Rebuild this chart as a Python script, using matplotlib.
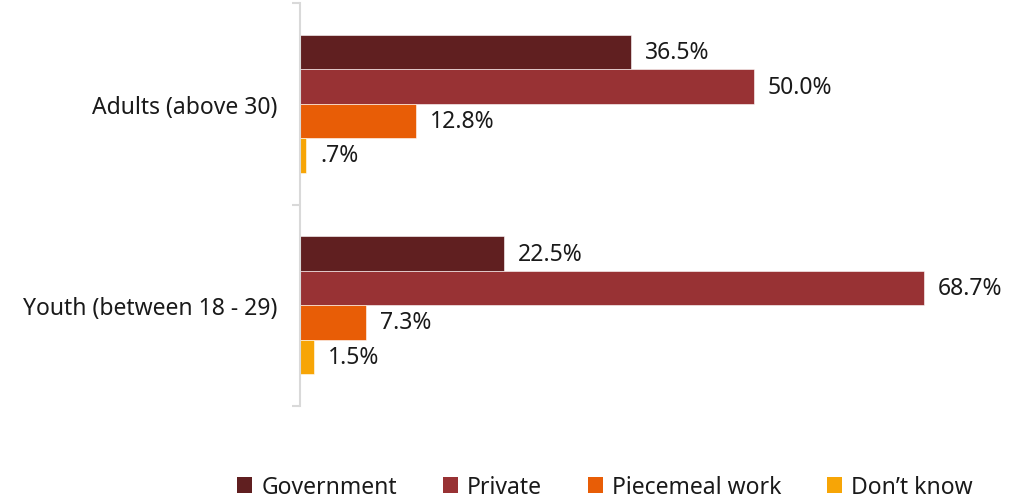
import matplotlib
matplotlib.use("Agg")
import matplotlib.pyplot as plt
import numpy as np
from matplotlib.patches import Patch

plt.rcParams['font.family'] = ['Noto Sans', 'DejaVu Sans']
plt.rcParams['font.weight'] = 'normal'

categories = ["Adults (above 30)", "Youth (between 18 - 29)"]
series = ["Government", "Private", "Piecemeal work", "Don\u2019t know"]
government = [36.5, 22.5]
private = [50.0, 68.7]
piecemeal = [12.8, 7.3]
dont_know = [0.7, 1.5]
value_labels = [["36.5%", "22.5%"], ["50.0%", "68.7%"], ["12.8%", "7.3%"], [".7%", "1.5%"]]
colors = ["#601F20", "#983234", "#E85D06", "#F7A506"]

values = [government, private, piecemeal, dont_know]
FS = 16.5
TXT = '#1a1a1a'

W, H = 1010, 502
fig = plt.figure(figsize=(W / 100, H / 100), dpi=100)
x_max = 78.0
px_per_unit = 9.08
ax_left, ax_top, ax_bottom = 300, 4, 407
ax = fig.add_axes([ax_left / W, 1 - ax_bottom / H,
                   x_max * px_per_unit / W, (ax_bottom - ax_top) / H])

bar_h = 0.171
y = np.arange(len(categories))
for i, (vals, col) in enumerate(zip(values, colors)):
    offs = (i - 1.5) * bar_h
    bars = ax.barh(y + offs, vals, height=bar_h, color=col,
                   edgecolor='white', linewidth=0.4)
    for b, lab in zip(bars, value_labels[i]):
        ax.annotate(lab, (b.get_width(), b.get_y() + b.get_height() / 2),
                    xytext=(10, 0), textcoords='offset points',
                    va='center', ha='left', fontsize=FS, color=TXT)

ax.set_xlim(0, x_max)
ax.set_ylim(1.5, -0.5)

for s in ['top', 'right', 'bottom']:
    ax.spines[s].set_visible(False)
ax.spines['left'].set_color('#d9d9d9')
ax.spines['left'].set_linewidth(1.5)
ax.set_xticks([])

ax.set_yticks([-0.5, 0.5, 1.5])
ax.set_yticklabels([])
ax.tick_params(axis='y', which='major', length=6, width=1.5, color='#d9d9d9')
ax.set_yticks(y, minor=True)
ax.set_yticklabels(categories, minor=True, fontsize=FS, color=TXT)
ax.tick_params(axis='y', which='minor', length=0, pad=16)

handles = [Patch(facecolor=c, edgecolor='none') for c in colors]
fig.legend(handles, series, loc='center', bbox_to_anchor=(605 / W, 1 - 488 / H),
           ncol=4, frameon=False, fontsize=FS, handlelength=0.65, handleheight=0.65,
           handletextpad=0.4, columnspacing=2.0, labelcolor=TXT)

fig.savefig("out.png", dpi=100, facecolor='white')
